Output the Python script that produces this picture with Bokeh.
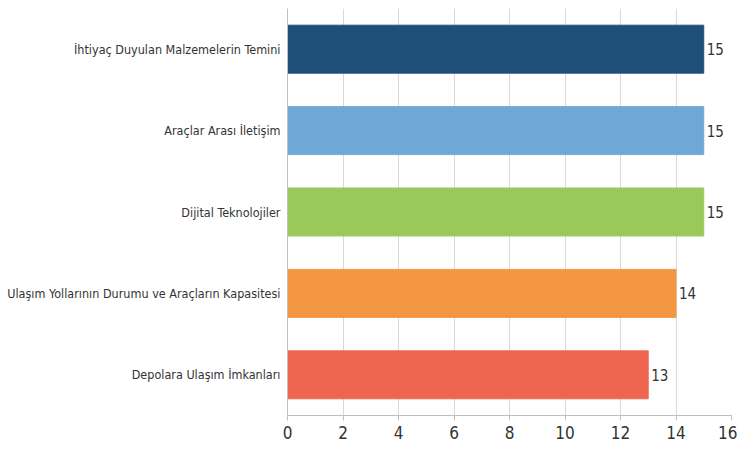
from bokeh.plotting import figure
from bokeh.models import FactorRange, Range1d, FixedTicker, ColumnDataSource
from bokeh.core.properties import value
from bokeh.embed import file_html
from bokeh.resources import INLINE

categories = [
    "İhtiyaç Duyulan Malzemelerin Temini",
    "Araçlar Arası İletişim",
    "Dijital Teknolojiler",
    "Ulaşım Yollarının Durumu ve Araçların Kapasitesi",
    "Depolara Ulaşım İmkanları",
]
values = [15, 15, 15, 14, 13]
colors = ["#1F4E79", "#6FA8D6", "#9BC85A", "#F39641", "#EE6650"]
x_ticks = [0, 2, 4, 6, 8, 10, 12, 14, 16]

FONT = "'DejaVu Sans Condensed', 'Liberation Sans', sans-serif"

src = ColumnDataSource(dict(cat=categories, val=values, color=colors,
                            lab=[str(v) for v in values]))

p = figure(width=737, height=450, output_backend="svg", toolbar_location=None,
           y_range=FactorRange(factors=list(reversed(categories))),
           x_range=Range1d(0, 16))
p.min_border_left = 287
p.min_border_right = 6
p.min_border_top = 8
p.min_border_bottom = 35
p.outline_line_color = None
p.background_fill_color = "white"

p.hbar(y="cat", right="val", left=0, height=0.59, fill_color="color",
       line_color="color", line_alpha=0.9, source=src)
p.text(x="val", y="cat", text="lab", x_offset=3, text_baseline="middle",
       text_align="left", text_font=value(FONT), text_font_size="15px",
       text_color="#333333", source=src)

p.xaxis.ticker = FixedTicker(ticks=x_ticks)
p.xaxis.minor_tick_line_color = None
p.xaxis.axis_line_color = "#BFBFBF"
p.xaxis.major_tick_line_color = "#BFBFBF"
p.xaxis.major_tick_in = 0
p.xaxis.major_tick_out = 5
p.xaxis.major_label_standoff = 5
p.xaxis.major_label_text_font = FONT
p.xaxis.major_label_text_font_size = "17px"
p.xaxis.major_label_text_color = "#333333"

p.yaxis.axis_line_color = "#BFBFBF"
p.yaxis.major_tick_line_color = None
p.yaxis.major_tick_in = 0
p.yaxis.major_tick_out = 0
p.yaxis.major_label_standoff = 7
p.yaxis.major_label_text_font = FONT
p.yaxis.major_label_text_font_size = "12.5px"
p.yaxis.major_label_text_color = "#333333"

p.xgrid.grid_line_color = "#D9D9D9"
p.ygrid.grid_line_color = None

open("out.html", "w").write(file_html(p, INLINE))
